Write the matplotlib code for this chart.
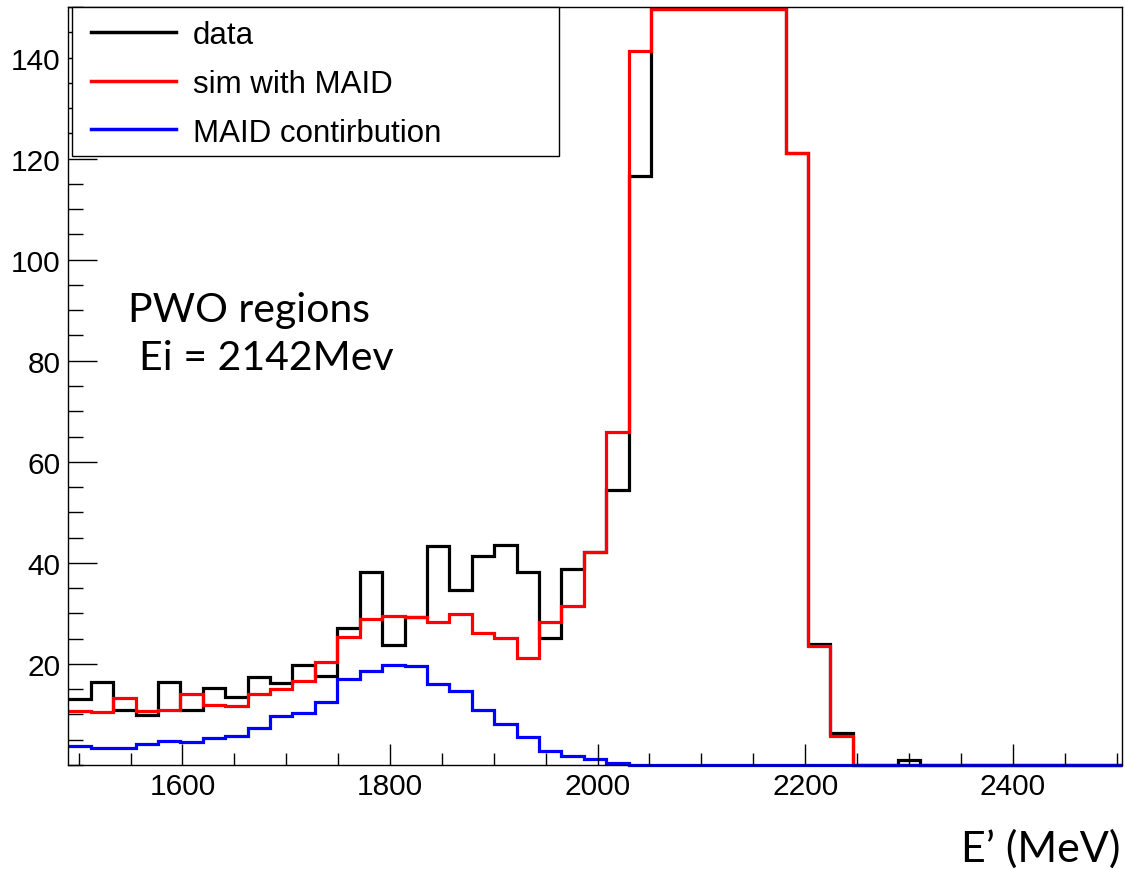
import numpy as np
import matplotlib
matplotlib.use("Agg")
import matplotlib.pyplot as plt
from matplotlib.lines import Line2D
from matplotlib.patches import Rectangle
from matplotlib.ticker import MultipleLocator

# E' binning (MeV): 47 bins of ~21.6 MeV starting at 1490
bin_lo = 1490.0
bin_w = 21.6
n_bins = 47
edges = bin_lo + bin_w * np.arange(n_bins + 1)

# counts per bin (peak bins are off scale, shown at the top 150)
data = [13.1, 16.4, 10.9, 9.8, 16.4, 10.9, 15.2, 13.4, 17.5, 16.2,
        19.7, 17.6, 27.1, 38.2, 23.8, 29.2, 43.3, 34.7, 41.4, 43.6,
        38.2, 25.1, 38.8, 42.2, 54.5, 116.5, 150, 150, 150, 150,
        150, 150, 121.2, 24.0, 6.3, 0, 0, 1.0, 0, 0,
        0, 0, 0, 0, 0, 0, 0]
sim_maid = [10.6, 10.4, 13.3, 10.6, 10.8, 14.1, 11.9, 11.7, 14.1, 15.0,
            16.7, 20.3, 25.4, 28.9, 29.4, 29.2, 28.3, 29.9, 26.1, 25.1,
            21.2, 28.3, 31.5, 42.2, 65.9, 141.2, 150, 150, 150, 150,
            150, 150, 121.2, 23.6, 5.8, 0, 0, 0, 0, 0,
            0, 0, 0, 0, 0, 0, 0]
maid_contrib = [3.7, 3.4, 3.3, 4.1, 4.75, 4.6, 5.4, 5.7, 7.3, 9.6,
                10.3, 12.4, 17.0, 18.6, 19.7, 19.5, 16.0, 14.7, 10.9, 8.1,
                5.5, 2.8, 1.85, 1.2, 0.4, 0, 0, 0, 0, 0,
                0, 0, 0, 0, 0, 0, 0, 0, 0, 0,
                0, 0, 0, 0, 0, 0, 0]

LABELS = ["data", "sim with MAID", "MAID contirbution"]
COLORS = ["black", "#ff0000", "#0000ff"]

YMAX = 150
W, H = 1125, 870
fig = plt.figure(figsize=(W / 100, H / 100), dpi=100)
ax = fig.add_axes([68.3 / W, 1 - 766 / H, (1121.7 - 68.3) / W, (766 - 8) / H])

for vals, col in zip([data, sim_maid, maid_contrib], COLORS):
    v = np.minimum(np.asarray(vals, float), YMAX - 0.4)
    ax.stairs(v, edges, color=col, linewidth=2.3, baseline=None, clip_on=False)

ax.set_xlim(1490, 2505)
ax.set_ylim(0, YMAX)

ax.set_xticks([1600, 1800, 2000, 2200, 2400])
ax.xaxis.set_minor_locator(MultipleLocator(50))
ax.set_yticks([20, 40, 60, 80, 100, 120, 140])
ax.yaxis.set_minor_locator(MultipleLocator(5))
ax.tick_params(axis="both", which="both", direction="in", top=False, right=False,
               labelsize=21.5, width=1.0, color="black")
ax.tick_params(axis="x", which="major", length=15, pad=5)
ax.tick_params(axis="x", which="minor", length=9)
ax.tick_params(axis="y", which="major", length=21, pad=5.5)
ax.tick_params(axis="y", which="minor", length=11)
for lab in ax.get_xticklabels() + ax.get_yticklabels():
    lab.set_family("Liberation Sans")
for sp in ax.spines.values():
    sp.set_linewidth(1.0)

# legend box (ROOT TLegend style), drawn in figure pixels
def fx(px):
    return px / W

def fy(py):
    return 1 - py / H

fig.patches.append(Rectangle((fx(72), fy(157)), fx(559) - fx(72), fy(8) - fy(157),
                             transform=fig.transFigure, facecolor="white",
                             edgecolor="black", linewidth=1.0, zorder=5))
for i, (lab, col) in enumerate(zip(LABELS, COLORS)):
    yc = 33 + 48.5 * i
    fig.add_artist(Line2D([fx(91), fx(176)], [fy(yc), fy(yc)], color=col,
                          linewidth=2.5, transform=fig.transFigure, zorder=6))
    fig.text(fx(193), fy(yc), lab, fontsize=22.5, family="Liberation Sans",
             ha="left", va="center_baseline", zorder=6)

fig.text(fx(128), fy(322), "PWO regions", fontsize=29.5, family="Lato",
         ha="left", va="baseline")
fig.text(fx(139), fy(370), "Ei = 2142Mev", fontsize=29.5, family="Lato",
         ha="left", va="baseline")
fig.text(fx(1120), fy(862), "E\u2019 (MeV)", fontsize=31, family="Lato",
         ha="right", va="baseline")

fig.savefig("out.png", dpi=100)
